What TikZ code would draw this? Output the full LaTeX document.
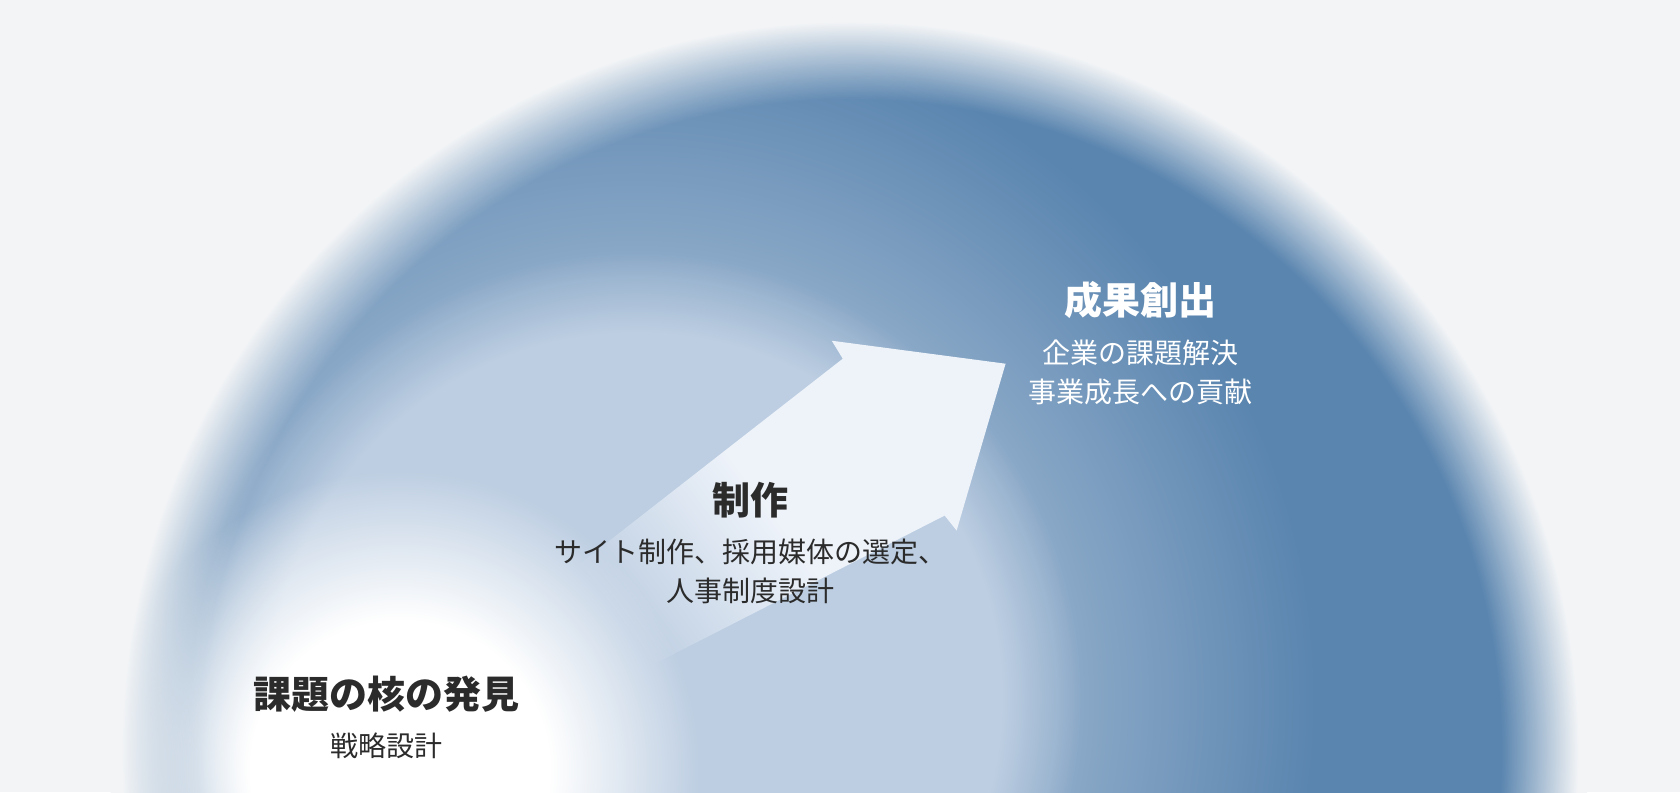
\documentclass[tikz,border=0pt]{standalone}
\usepackage{fontspec}
\setmainfont{Noto Sans CJK JP}
\usetikzlibrary{positioning,fadings}

\definecolor{canvasgray}{HTML}{F2F4F6}
\definecolor{discmid}{HTML}{8EABC9}
\definecolor{discdeep}{HTML}{5A85AF}
\definecolor{blobblue}{HTML}{BDCEE2}
\definecolor{arrowwhite}{HTML}{EEF3FA}
\definecolor{inkdark}{HTML}{2B2B2B}

\pgfdeclareradialshading{discshading}{\pgfpointorigin}{color(0bp)=(discmid); color(10.5bp)=(discmid); color(17bp)=(discdeep); color(50bp)=(discdeep)}
\pgfdeclareradialshading{discrimshading}{\pgfpointorigin}{color(0bp)=(black); color(21.9bp)=(black); color(24.5bp)=(white); color(50bp)=(white)}
\pgfdeclarefading{discrim}{\pgfuseshading{discrimshading}}
\pgfdeclareradialshading{blobshading}{\pgfpointorigin}{color(0bp)=(white); color(20.5bp)=(white); color(25bp)=(black); color(50bp)=(black)}
\pgfdeclarefading{blobedge}{\pgfuseshading{blobshading}}
\pgfdeclareradialshading{glowshading}{\pgfpointorigin}{color(0bp)=(white); color(12.5bp)=(white); color(25bp)=(black); color(50bp)=(black)}
\pgfdeclarefading{glowedge}{\pgfuseshading{glowshading}}
\pgfdeclarehorizontalshading{arrowshading}{100bp}{color(0bp)=(black); color(28bp)=(black); color(50bp)=(white); color(100bp)=(white)}
\pgfdeclarefading{arrowtail}{\pgfuseshading{arrowshading}}

\begin{document}
\begin{tikzpicture}[
    x=0.5pt, y=-0.5pt,
    stagetitle/.style={font=\bfseries\fontsize{19}{23}\selectfont, inner sep=0pt, text=inkdark},
    stagetext/.style={font=\fontsize{14}{19.5}\selectfont, inner sep=0pt, align=center, text=inkdark},
    onblue/.style={text=white}
]

% background
\fill[canvasgray] (0,0) rectangle (1680,792);

% disc, light blob and glow
\begin{scope}
    \clip (850,750) circle (732);
    \shade[shading=discshading] (636,698) circle (1000);
    \fill[blobblue, path fading=blobedge] (636,698) circle (445);
    \fill[white, path fading=glowedge] (400,770) circle (300);
\end{scope}
% soft rim
\fill[canvasgray, path fading=discrim] (850,750) circle (740);

% arrow
\coordinate (tailtop) at (543,592);
\coordinate (shaftleft) at (843,358);
\coordinate (barbleft) at (832,340);
\coordinate (tip) at (1006,363);
\coordinate (barbright) at (957,530);
\coordinate (shaftright) at (945,515);
\coordinate (tailbottom) at (589,697);
\fill[arrowwhite, path fading=arrowtail, fading angle=30] (tailtop) -- (shaftleft) -- (barbleft) -- (tip) -- (barbright) -- (shaftright) -- (tailbottom) -- cycle;

% labels
\node[stagetitle, onblue] (result) at (1140,300) {成果創出};
\node[stagetext, onblue, below=10pt of result] (resultnote) {企業の課題解決\\事業成長への貢献};

\node[stagetitle] (make) at (750,500) {制作};
\node[stagetext, below=10pt of make] (makenote) {サイト制作、採用媒体の選定、\\人事制度設計};

\node[stagetitle] (core) at (386,694) {課題の核の発見};
\node[stagetext, below=10pt of core] (corenote) {戦略設計};

\pgfresetboundingbox
\useasboundingbox (0,0) rectangle (1680,792);
\end{tikzpicture}
\end{document}
